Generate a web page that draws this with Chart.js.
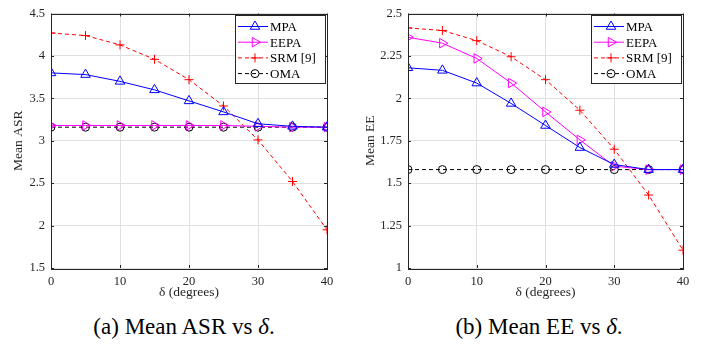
<!DOCTYPE html>
<html>
<head>
<meta charset="utf-8">
<script src="https://cdn.jsdelivr.net/npm/chart.js@4.4.1/dist/chart.umd.min.js"></script>
<style>
  body { margin: 0; background: #fff; }
  #wrap { position: relative; width: 705px; height: 345px; font-family: "Liberation Serif", serif; }
  .pane { position: absolute; top: 0; width: 345px; height: 305px; }
  .cap { position: absolute; top: 314px; font-size: 23px; line-height: 26px; color: #000; white-space: nowrap; transform: translateX(-50%); }
</style>
</head>
<body>
<div id="wrap">
  <div class="pane" style="left:0"><canvas id="asr" width="345" height="305"></canvas></div>
  <div class="pane" style="left:357px"><canvas id="ee" width="345" height="305"></canvas></div>
  <div class="cap" style="left:184px">(a) Mean ASR vs <i>δ</i>.</div>
  <div class="cap" style="left:539px">(b) Mean EE vs <i>δ</i>.</div>
</div>
<script>
const delta = [0, 5, 10, 15, 20, 25, 30, 35, 40];
const seriesNames = ['MPA', 'EEPA', 'SRM [9]', 'OMA'];

// mean ASR
const asrMPA  = [3.80, 3.78, 3.70, 3.60, 3.47, 3.34, 3.20, 3.17, 3.16];
const asrEEPA = [3.18, 3.18, 3.18, 3.18, 3.18, 3.18, 3.17, 3.16, 3.16];
const asrSRM  = [4.27, 4.24, 4.13, 3.96, 3.72, 3.41, 3.01, 2.52, 1.95];
const asrOMA  = [3.16, 3.16, 3.16, 3.16, 3.16, 3.16, 3.16, 3.16, 3.16];

// mean EE
const eeMPA  = [2.18, 2.165, 2.09, 1.97, 1.84, 1.71, 1.61, 1.58, 1.58];
const eeEEPA = [2.36, 2.325, 2.235, 2.09, 1.92, 1.755, 1.60, 1.58, 1.58];
const eeSRM  = [2.415, 2.40, 2.34, 2.245, 2.11, 1.93, 1.70, 1.43, 1.105];
const eeOMA  = [1.58, 1.58, 1.58, 1.58, 1.58, 1.58, 1.58, 1.58, 1.58];

const styles = [
  { color: '#0000ff', dash: [], point: 'triangle', rot: 0, r: 5.5 },
  { color: '#ff00ff', dash: [], point: 'triangle', rot: 90, r: 5.5 },
  { color: '#ff0000', dash: [4, 3], point: 'cross', rot: 0, r: 4.5 },
  { color: '#000000', dash: [4, 3], point: 'circle', rot: 0, r: 4 },
];

const AXIS = '#262626';
const FONT = 'Liberation Serif';

function drawMarker(ctx, st, x, y) {
  ctx.save();
  ctx.setLineDash([]);
  ctx.strokeStyle = st.color;
  ctx.lineWidth = 1;
  ctx.beginPath();
  if (st.point === 'circle') {
    ctx.arc(x, y, st.r, 0, Math.PI * 2);
  } else if (st.point === 'cross') {
    ctx.moveTo(x - st.r, y); ctx.lineTo(x + st.r, y);
    ctx.moveTo(x, y - st.r); ctx.lineTo(x, y + st.r);
  } else {
    const a = st.rot * Math.PI / 180;
    for (let i = 0; i < 3; i++) {
      const t = a + i * 2 * Math.PI / 3;
      const px = x + Math.sin(t) * st.r, py = y - Math.cos(t) * st.r;
      if (i === 0) ctx.moveTo(px, py); else ctx.lineTo(px, py);
    }
    ctx.closePath();
  }
  ctx.stroke();
  ctx.restore();
}

// box, inner ticks and legend (matlab look)
const matlabBox = {
  id: 'matlabBox',
  afterDatasetsDraw(chart) {
    const { ctx, chartArea: a, scales } = chart;
    ctx.save();
    ctx.strokeStyle = AXIS;
    ctx.lineWidth = 1;
    ctx.beginPath();
    scales.x.ticks.forEach(t => {
      const px = Math.round(scales.x.getPixelForValue(t.value)) + 0.5;
      ctx.moveTo(px, a.bottom); ctx.lineTo(px, a.bottom - 3);
      ctx.moveTo(px, a.top); ctx.lineTo(px, a.top + 3);
    });
    scales.y.ticks.forEach(t => {
      const py = Math.round(scales.y.getPixelForValue(t.value)) + 0.5;
      ctx.moveTo(a.left, py); ctx.lineTo(a.left + 3, py);
      ctx.moveTo(a.right, py); ctx.lineTo(a.right - 3, py);
    });
    ctx.stroke();
    ctx.strokeRect(Math.round(a.left) + 0.5, Math.round(a.top) + 0.5, Math.round(a.right - a.left), Math.round(a.bottom - a.top));

    // legend
    const lx = Math.round(a.right) - 92, ly = Math.round(a.top) + 1, lw = 90, lh = 68;
    ctx.fillStyle = '#fff';
    ctx.fillRect(lx, ly, lw, lh);
    ctx.strokeRect(lx + 0.5, ly + 0.5, lw, lh);
    ctx.font = '13px "' + FONT + '"';
    ctx.textBaseline = 'middle';
    seriesNames.forEach((name, i) => {
      const st = styles[i];
      const y = ly + 11.5 + i * 15.7;
      ctx.strokeStyle = st.color;
      ctx.setLineDash(st.dash);
      ctx.beginPath();
      ctx.moveTo(lx + 3, y); ctx.lineTo(lx + 33, y);
      ctx.stroke();
      drawMarker(ctx, st, lx + 20, y);
      ctx.fillStyle = '#000';
      ctx.fillText(name, lx + 35, y + 1);
    });
    ctx.restore();
  }
};

function makeChart(id, values, yMin, yMax, step, yTitle, titlePad, padRight) {
  const datasets = values.map((vals, i) => {
    const st = styles[i];
    return {
      label: seriesNames[i],
      data: delta.map((d, k) => ({ x: d, y: vals[k] })),
      borderColor: st.color,
      backgroundColor: 'transparent',
      borderWidth: 1,
      borderDash: st.dash,
      pointStyle: st.point,
      pointRotation: st.rot,
      pointRadius: st.r,
      pointBorderWidth: 1,
      pointBorderColor: st.color,
      pointBackgroundColor: 'transparent',
      tension: 0,
    };
  });
  return new Chart(document.getElementById(id), {
    type: 'line',
    data: { datasets },
    options: {
      responsive: false,
      animation: false,
      layout: { padding: { top: 7, right: padRight, left: 0, bottom: 0 } },
      plugins: { legend: { display: false }, tooltip: { enabled: false } },
      scales: {
        x: {
          type: 'linear', min: 0, max: 40,
          ticks: { stepSize: 10, color: AXIS, padding: 6, font: { family: FONT, size: 12.5 } },
          grid: { color: '#e0e0e0', drawTicks: false },
          border: { display: false },
          title: { display: true, text: 'δ (degrees)', color: AXIS, padding: { top: 1 }, font: { family: FONT, size: 13.5 } },
          afterFit: s => { s.height = 37; },
        },
        y: {
          min: yMin, max: yMax,
          ticks: { stepSize: step, color: AXIS, padding: 6, font: { family: FONT, size: 12.5 }, callback: v => String(v) },
          grid: { color: '#e0e0e0', drawTicks: false },
          border: { display: false },
          title: { display: true, text: yTitle, color: AXIS, padding: { top: titlePad, bottom: 0 }, font: { family: FONT, size: 13.5 } },
          afterFit: s => { s.width = 51; },
        },
      },
    },
    plugins: [matlabBox],
  });
}

makeChart('asr', [asrMPA, asrEEPA, asrSRM, asrOMA], 1.5, 4.5, 0.5, 'Mean ASR', 10, 18);
makeChart('ee', [eeMPA, eeEEPA, eeSRM, eeOMA], 1, 2.5, 0.25, 'Mean EE', 5, 19);
</script>
</body>
</html>
